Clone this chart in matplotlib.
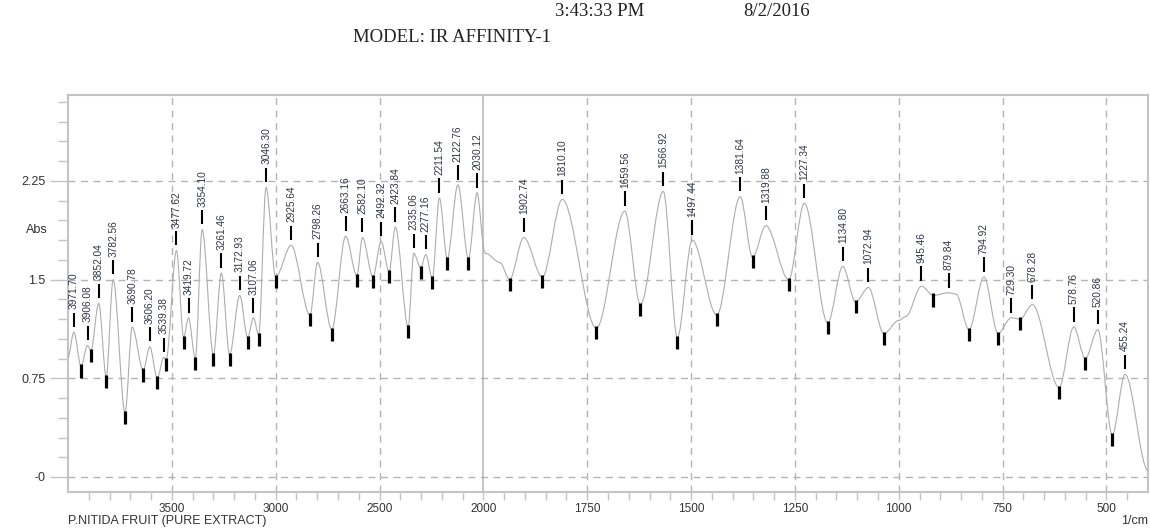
import numpy as np
import matplotlib
matplotlib.use("Agg")
from matplotlib import pyplot as plt
from matplotlib.path import Path
from matplotlib.patches import PathPatch
from matplotlib.ticker import FixedLocator, MultipleLocator
from matplotlib.transforms import blended_transform_factory

# labelled peaks (1/cm) and their absorbance
peak_wn = [3971.70, 3906.08, 3852.04, 3782.56, 3690.78, 3606.20, 3539.38, 3477.62,
           3419.72, 3354.10, 3261.46, 3172.93, 3107.06, 3046.30, 2925.64, 2798.26,
           2663.16, 2582.10, 2492.32, 2423.84, 2335.06, 2277.16, 2211.54, 2122.76,
           2030.12, 1902.74, 1810.10, 1659.56, 1566.92, 1497.44, 1381.64, 1319.88,
           1227.34, 1134.80, 1072.94, 945.46, 879.84, 794.92, 729.30, 678.28,
           578.76, 520.86, 455.24]
peak_abs = [1.10, 1.00, 1.32, 1.50, 1.14, 0.99, 0.91, 1.72,
            1.21, 1.88, 1.55, 1.38, 1.21, 2.20, 1.76, 1.63,
            1.83, 1.82, 1.79, 1.90, 1.70, 1.69, 2.12, 2.22,
            2.16, 1.82, 2.11, 2.02, 2.17, 1.80, 2.13, 1.91,
            2.08, 1.60, 1.44, 1.45, 1.40, 1.52, 1.21, 1.31,
            1.14, 1.12, 0.78]

# valleys (marked with a thick bar)
trough_wn = [3937, 3890, 3816, 3725, 3638, 3570, 3528, 3443, 3387, 3300, 3222,
             3135, 3082, 3000, 2835, 2730, 2609, 2532, 2454, 2362, 2302, 2246,
             2174, 2072, 1937, 1858, 1728, 1622, 1533, 1438, 1352, 1265, 1171,
             1104, 1036, 917, 831, 761, 708, 614, 551, 486]
trough_abs = [0.84, 0.96, 0.76, 0.49, 0.81, 0.75, 0.89, 1.06, 0.90, 0.93, 0.93,
              1.06, 1.08, 1.52, 1.23, 1.12, 1.53, 1.52, 1.56, 1.14, 1.59, 1.51,
              1.66, 1.66, 1.50, 1.52, 1.13, 1.31, 1.06, 1.23, 1.67, 1.50, 1.17,
              1.33, 1.09, 1.38, 1.12, 1.09, 1.20, 0.68, 0.90, 0.32]

# other points on the trace (ends, shoulders, plateaus)
extra_wn = [4000, 1995, 1960, 1000, 983, 862, 400]
extra_abs = [0.91, 1.70, 1.63, 1.19, 1.22, 1.39, 0.05]

x_ticks = [3500, 3000, 2500, 2000, 1750, 1500, 1250, 1000, 750, 500]
y_ticks = [0, 0.75, 1.5, 2.25]
y_tick_labels = ['-0', '0.75', '1.5', '2.25']

LINE = '#adadad'
GRID = '#b4b4b4'
FRAME = '#c4c4c4'
TEXT = '#333333'


def _fwd(x):
    # above 2000 1/cm the axis is compressed by half
    x = np.asarray(x, dtype=float)
    return np.where(x > 2000, 2000 + (x - 2000) / 2, x)


def _inv(u):
    u = np.asarray(u, dtype=float)
    return np.where(u > 2000, 2000 + (u - 2000) * 2, u)


def smooth_path(xs, ys):
    """Bezier trace with flat tangents at every read point."""
    verts = [(xs[0], ys[0])]
    codes = [Path.MOVETO]
    for i in range(1, len(xs)):
        d = (xs[i] - xs[i - 1]) / 3
        verts += [(xs[i - 1] + d, ys[i - 1]), (xs[i] - d, ys[i]), (xs[i], ys[i])]
        codes += [Path.CURVE4] * 3
    return Path(verts, codes)


fig = plt.figure(figsize=(11.5, 5.3), dpi=100)
ax = fig.add_axes([68 / 1150, 38 / 530, 1080 / 1150, 397 / 530])
ax.set_xscale('function', functions=(_fwd, _inv))
ax.set_xlim(4000, 400)
ax.set_ylim(-0.114, 2.903)

# trace
wn = np.array(peak_wn + trough_wn + extra_wn)
ab = np.array(peak_abs + trough_abs + extra_abs)
order = np.argsort(-wn)
ax.add_patch(PathPatch(smooth_path(wn[order], ab[order]), fill=False,
                       edgecolor=LINE, lw=0.8, zorder=3))

# grid
for x in x_ticks:
    if x == 2000:
        ax.axvline(x, color=GRID, lw=1.1, zorder=1)
    else:
        ax.axvline(x, color=GRID, lw=1.0, ls=(0, (5, 4)), zorder=1)
for y in y_ticks:
    ax.axhline(y, color=GRID, lw=1.0, ls=(0, (5, 4)), zorder=1)

# peak markers + labels
pa = np.array(peak_abs)
ax.vlines(peak_wn, pa + 0.04, pa + 0.15, color='black', lw=1.5, zorder=4)
for w, a in zip(peak_wn, peak_abs):
    ax.text(w, a + 0.175, f'{w:.2f}', rotation=90, ha='center', va='bottom',
            fontsize=7.3, color='#2f3646', family='Liberation Sans', zorder=5)

# valley markers
ta = np.array(trough_abs)
ax.vlines(trough_wn, ta + 0.015, ta - 0.085, color='black', lw=2.3, zorder=4)

# axes styling
for sp in ax.spines.values():
    sp.set_color(FRAME)
    sp.set_linewidth(1.5)

ax.xaxis.set_major_locator(FixedLocator(x_ticks))
ax.set_xticklabels([str(t) for t in x_ticks])
minor_x = [v for v in list(range(3900, 2000, -100)) + list(range(1950, 400, -50))
           if v not in x_ticks]
ax.xaxis.set_minor_locator(FixedLocator(minor_x))
ax.tick_params(axis='x', which='both', direction='out', length=6, width=1,
               color=FRAME, labelsize=8.5, labelcolor=TEXT, pad=2)

ax.yaxis.set_major_locator(FixedLocator(y_ticks))
ax.set_yticklabels(y_tick_labels)
ax.yaxis.set_minor_locator(MultipleLocator(0.15))
ax.tick_params(axis='y', which='major', direction='out', length=13, width=1,
               color=FRAME, labelsize=9, labelcolor=TEXT, pad=3)
ax.tick_params(axis='y', which='minor', direction='out', length=7, width=1,
               color=FRAME)
for lbl in ax.get_xticklabels() + ax.get_yticklabels():
    lbl.set_family('Liberation Sans')

trans = blended_transform_factory(ax.transAxes, ax.transData)
ax.text(-20 / 1080, 1.875, 'Abs', transform=trans, ha='right', va='center',
        fontsize=9, color=TEXT, family='Liberation Sans')

# page texts
fig.text(68 / 1150, 9 / 530, 'P.NITIDA FRUIT (PURE EXTRACT)', ha='left', va='center',
         fontsize=9, color=TEXT, family='Liberation Sans')
fig.text(1148 / 1150, 9 / 530, '1/cm', ha='right', va='center',
         fontsize=9, color=TEXT, family='Liberation Sans')
fig.text(452 / 1150, 1 - 37 / 530, 'MODEL: IR AFFINITY-1', ha='center', va='center',
         fontsize=13.5, color='#222222', family='Liberation Serif')
fig.text(600 / 1150, 1 - 11 / 530, '3:43:33 PM', ha='center', va='center',
         fontsize=13.5, color='#222222', family='Liberation Serif')
fig.text(777 / 1150, 1 - 11 / 530, '8/2/2016', ha='center', va='center',
         fontsize=13.5, color='#222222', family='Liberation Serif')

fig.savefig('out.png', dpi=100)
